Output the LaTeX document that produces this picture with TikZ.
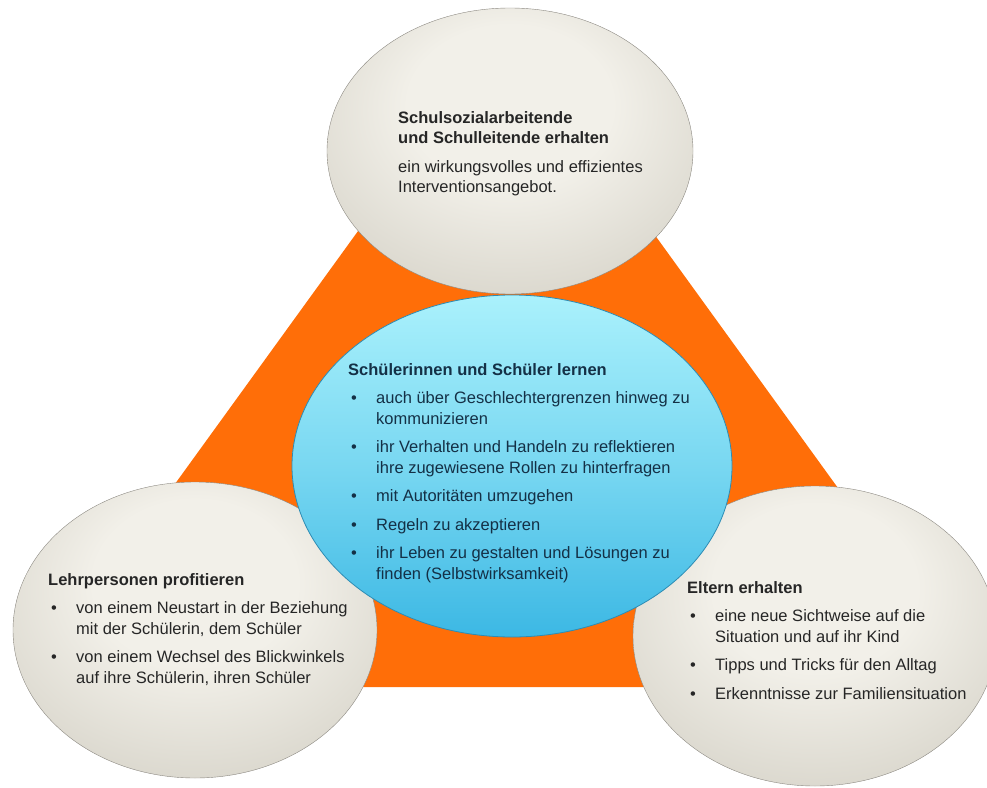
\documentclass[tikz,border=0pt]{standalone}
\usepackage{fontspec}
\setmainfont{Liberation Sans}
\usetikzlibrary{calc}

\definecolor{orangefill}{RGB}{255,110,8}
\definecolor{greycore}{RGB}{242,240,233}
\definecolor{greymid}{RGB}{218,215,205}
\definecolor{greydark}{RGB}{186,182,172}
\definecolor{greyedge}{RGB}{140,137,130}
\definecolor{cyantop}{RGB}{170,241,252}
\definecolor{cyanbot}{RGB}{60,184,228}
\definecolor{cyanedge}{RGB}{45,140,180}
\definecolor{greytext}{RGB}{38,38,38}
\definecolor{bluetext}{RGB}{20,48,70}

\pgfdeclareradialshading{greyball}{\pgfpoint{0bp}{10bp}}{color(0bp)=(greycore); color(14bp)=(greycore); color(32bp)=(greymid); color(46bp)=(greydark); color(54bp)=(greyedge); color(70bp)=(greyedge)}

\newcommand{\bul}{\hspace*{3pt}\makebox[25pt][l]{\textbullet}}
\newcommand{\ind}{\hspace*{28pt}}

\begin{document}
\begin{tikzpicture}[x=1pt,y=-1pt,
  blocktext/.style={anchor=north west, inner sep=0pt, align=left,
    font=\fontsize{16.5}{20.5}\selectfont},
  greyball/.style={shading=greyball, draw=greyedge, line width=0.4pt}]

\useasboundingbox (0,0) rectangle (987,787);

\coordinate (A) at (505,28);
\coordinate (B) at (28,687);
\coordinate (C) at (982,687);

\fill[orangefill] (A)--(B)--(C)--cycle;

% the three grey balls
\shade[greyball] (510,151) ellipse [x radius=183, y radius=143];
\shade[greyball] (195,630) ellipse [x radius=182, y radius=148];
\shade[greyball] (815,636) ellipse [x radius=182, y radius=150];

% middle
\shade[top color=cyantop, bottom color=cyanbot, middle color=cyantop!55!cyanbot,
  draw=cyanedge, line width=0.8pt] (512,466) ellipse [x radius=220, y radius=171];

\node[blocktext, text=greytext] (schulleitung) at (398,111)
  {\textbf{Schulsozialarbeitende}\\
   \textbf{und Schulleitende erhalten}\\[8pt]
   ein wirkungsvolles und effizientes\\
   Interventionsangebot.};

\node[blocktext, text=bluetext] (schueler) at (348,363)
  {\textbf{Schülerinnen und Schüler lernen}\\[8pt]
   \bul auch über Geschlechtergrenzen hinweg zu\\
   \ind kommunizieren\\[8pt]
   \bul ihr Verhalten und Handeln zu reflektieren\\
   \ind ihre zugewiesene Rollen zu hinterfragen\\[8pt]
   \bul mit Autoritäten umzugehen\\[8pt]
   \bul Regeln zu akzeptieren\\[8pt]
   \bul ihr Leben zu gestalten und Lösungen zu\\
   \ind finden (Selbstwirksamkeit)};

\node[blocktext, text=greytext] (lehrpersonen) at (48,573)
  {\textbf{Lehrpersonen profitieren}\\[8pt]
   \bul von einem Neustart in der Beziehung\\
   \ind mit der Schülerin, dem Schüler\\[8pt]
   \bul von einem Wechsel des Blickwinkels\\
   \ind auf ihre Schülerin, ihren Schüler};

\node[blocktext, text=greytext] (eltern) at (687,581)
  {\textbf{Eltern erhalten}\\[8pt]
   \bul eine neue Sichtweise auf die\\
   \ind Situation und auf ihr Kind\\[8pt]
   \bul Tipps und Tricks für den Alltag\\[8pt]
   \bul Erkenntnisse zur Familiensituation};

\end{tikzpicture}
\end{document}
